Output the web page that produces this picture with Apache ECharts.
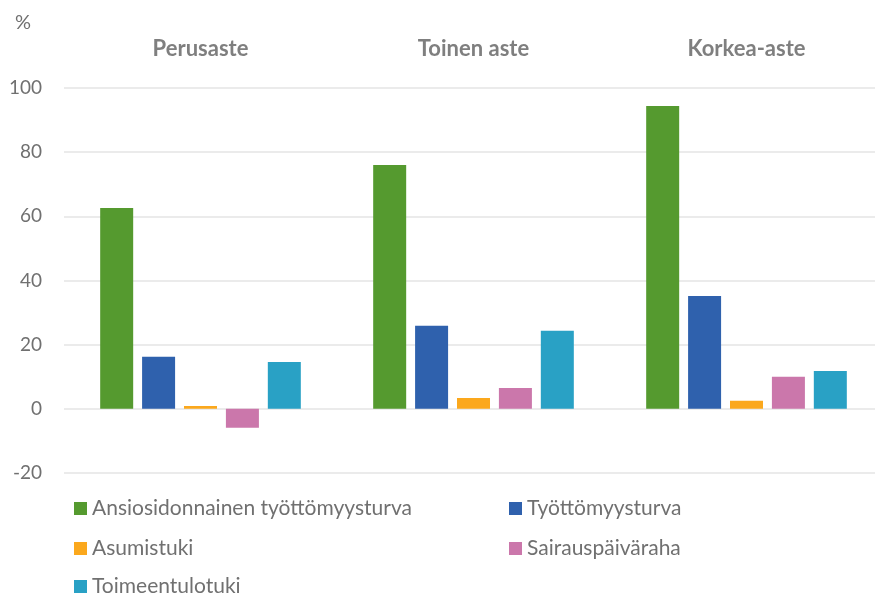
<!DOCTYPE html>
<html><head><meta charset="utf-8">
<script src="https://cdn.jsdelivr.net/npm/echarts@6/dist/echarts.min.js"></script>
<style>html,body{margin:0;padding:0;background:#fff}#c{width:875px;height:594px}</style>
</head><body><div id="c"></div>
<script>
const categories = ['Perusaste', 'Toinen aste', 'Korkea-aste'];
const seriesNames = ['Ansiosidonnainen työttömyysturva', 'Työttömyysturva', 'Asumistuki', 'Sairauspäiväraha', 'Toimeentulotuki'];
const ansiosidonnainen = [62.6, 76.0, 94.4];
const tyottomyysturva = [16.2, 25.9, 35.2];
const asumistuki = [0.9, 3.4, 2.5];
const sairauspaivaraha = [-5.9, 6.5, 10.0];
const toimeentulotuki = [14.6, 24.3, 11.8];
const yTicks = [-20, 0, 20, 40, 60, 80, 100];
const colors = ['#559a2f', '#2f61ad', '#fba81d', '#cb77ab', '#29a1c5'];

const values = [ansiosidonnainen, tyottomyysturva, asumistuki, sairauspaivaraha, toimeentulotuki];
const font = 'Source Sans Pro, Lato, sans-serif';
const textColor = '#707070';
const legendPos = [[74, 498], [509, 498], [74, 538], [509, 538], [74, 576]];

const chart = echarts.init(document.getElementById('c'));
chart.setOption({
  animation: false,
  color: colors,
  grid: { left: 64, width: 819, top: 88, bottom: 121, containLabel: false, outerBoundsMode: 'none' },
  graphic: [{ type: 'text', left: 15, top: 13, style: { text: '%', font: '20px ' + font, fill: textColor } }],
  xAxis: {
    type: 'category', data: categories, position: 'top',
    axisLine: { show: false }, axisTick: { show: false },
    axisLabel: { margin: 28, fontSize: 22, fontWeight: 'bold', color: '#7f7f7f', fontFamily: font }
  },
  yAxis: {
    type: 'value', min: yTicks[0], max: yTicks[yTicks.length - 1], interval: 20,
    axisLine: { show: false }, axisTick: { show: false },
    axisLabel: { margin: 22, fontSize: 19, color: textColor, fontFamily: font },
    splitLine: { lineStyle: { color: '#e4e4e4', width: 1.5 } }
  },
  legend: seriesNames.map((n, i) => ({
    data: [n], left: legendPos[i][0], top: legendPos[i][1], itemWidth: 13, itemHeight: 13, itemGap: 6,
    icon: 'rect', textStyle: { fontSize: 21, color: textColor, fontFamily: font }, padding: 0
  })),
  series: seriesNames.map((n, i) => ({
    name: n, type: 'bar', data: values[i], barWidth: 33, barGap: '27%', barCategoryGap: '26%',
    itemStyle: { color: colors[i] }
  }))
});
</script></body></html>
